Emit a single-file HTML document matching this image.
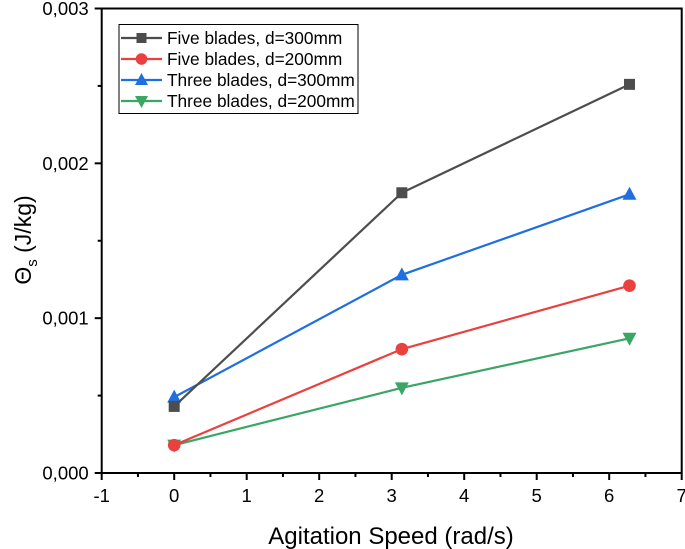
<!DOCTYPE html>
<html><head><meta charset="utf-8"><style>
body{margin:0;background:#fff;font-family:"Liberation Sans",Arial,sans-serif}
svg{display:block}
</style></head><body>
<svg id="chart" width="685" height="549">
<g id="axes"></g><g id="series"></g><g id="legend"></g>
</svg>
<script>
const xVals=[0,3.14,6.28];
const fiveD300=[0.00043,0.00181,0.00251];
const fiveD200=[0.00018,0.0008,0.00121];
const threeD300=[0.00049,0.00128,0.0018];
const threeD200=[0.00018,0.00055,0.00087];
const seriesNames=["Five blades, d=300mm","Five blades, d=200mm","Three blades, d=300mm","Three blades, d=200mm"];
const xTicks=[-1,0,1,2,3,4,5,6,7];
const yTicks=[0,0.001,0.002,0.003];
const yTickLabels=["0,000","0,001","0,002","0,003"];

const NS="http://www.w3.org/2000/svg";
const X0=101.7,X1=681.7,Y0=473,Y1=8.5;
const xs=v=>X0+(v+1)/8*(X1-X0);
const ys=v=>Y0-v/0.003*(Y0-Y1);
function mk(parent,tag,attrs,text){const e=document.createElementNS(NS,tag);for(const k in attrs)e.setAttribute(k,attrs[k]);if(text!==undefined)e.textContent=text;parent.appendChild(e);return e;}
const axes=document.getElementById('axes');
let frame=mk(axes,'rect',{x:X0,y:Y1,width:X1-X0,height:Y0-Y1,fill:'none',stroke:'#000','stroke-width':2});


xTicks.forEach((t,i)=>{
  const x=xs(t);
  let tk=mk(axes,'line',{x1:x,x2:x,y1:Y0,y2:Y0+7,stroke:'#000','stroke-width':2});
  
  
  if(i<xTicks.length-1){const m=xs(t+0.5);mk(axes,'line',{x1:m,x2:m,y1:Y0,y2:Y0+4,stroke:'#000','stroke-width':2});}
  let lb=mk(axes,'text',{x:x,y:Y0+29,'text-anchor':'middle','font-size':18.5},String(t));
  
  
});
yTicks.forEach((t,i)=>{
  const y=ys(t);
  let tk=mk(axes,'line',{x1:X0-7,x2:X0,y1:y,y2:y,stroke:'#000','stroke-width':2});
  
  
  if(i<yTicks.length-1){const m=ys(t+0.0005);mk(axes,'line',{x1:X0-4,x2:X0,y1:m,y2:m,stroke:'#000','stroke-width':2});}
  let lb=mk(axes,'text',{x:X0-13,y:y+6.5,'text-anchor':'end','font-size':18.5},yTickLabels[i]);
  
  
});
let xt=mk(axes,'text',{x:391,y:544,'text-anchor':'middle','font-size':24},'Agitation Speed (rad/s)');


let yt=mk(axes,'text',{transform:'translate(31,240) rotate(-90)','text-anchor':'middle','font-size':23});


yt.innerHTML='Θ<tspan font-size="15" dy="6">s</tspan><tspan dy="-6"> (J/kg)</tspan>';

const colors=['#4d4d4d','#e8413f','#1f6fe0','#3aa565'];
const markers=['square','circle','up','down'];
function marker(g,type,x,y,c,s){
  if(type==='square')return mk(g,'rect',{x:x-s,y:y-s,width:2*s,height:2*s,fill:c});
  if(type==='circle')return mk(g,'circle',{cx:x,cy:y,r:s+0.8,fill:c});
  if(type==='up')return mk(g,'polygon',{points:`${x},${y-s-2} ${x-s-1.5},${y+s} ${x+s+1.5},${y+s}`,fill:c});
  return mk(g,'polygon',{points:`${x},${y+s+2} ${x-s-1.5},${y-s} ${x+s+1.5},${y-s}`,fill:c});
}
const data=[fiveD300,fiveD200,threeD300,threeD200];
const sg=document.getElementById('series');
[3,2,1,0].forEach(si=>{
  const g=mk(sg,'g',{});
  
  
  const pts=xVals.map((v,i)=>xs(v)+','+ys(data[si][i])).join(' ');
  mk(g,'polyline',{points:pts,fill:'none',stroke:colors[si],'stroke-width':2.2});
  xVals.forEach((v,i)=>{
    const m=marker(g,markers[si],xs(v),ys(data[si][i]),colors[si],5.5);
    
    
  });
});
const lg=document.getElementById('legend');


mk(lg,'rect',{x:119,y:24.5,width:239,height:89,fill:'#fff',stroke:'#000','stroke-width':1});
seriesNames.forEach((n,i)=>{
  const y=38+i*21;
  const e=mk(lg,'g',{});
  
  
  mk(e,'line',{x1:121,x2:162,y1:y,y2:y,stroke:colors[i],'stroke-width':2.2});
  marker(e,markers[i],141.5,y,colors[i],5);
  mk(e,'text',{x:167,y:y+6,'font-size':17.3},n);
});
</script>
</body></html>
